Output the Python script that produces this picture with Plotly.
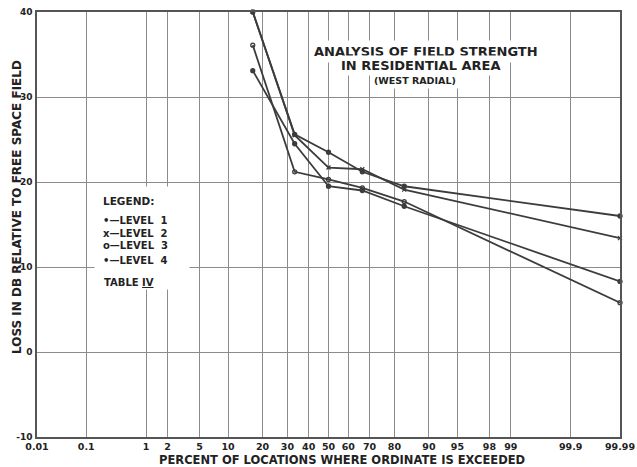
import plotly.graph_objects as go
from statistics import NormalDist

# ---------------- data ----------------
percent = [16.7, 33.3, 50, 66.7, 83.3, 99.99]
level1 = [40.0, 25.6, 23.5, 21.2, 19.5, 16.0]
level2 = [40.0, 25.5, 21.7, 21.5, 19.1, 13.4]
level3 = [36.1, 21.2, 20.3, 19.3, 17.7, 5.8]
level4 = [33.1, 24.5, 19.5, 19.0, 17.15, 8.3]

tick_pct = [0.01, 0.1, 1, 2, 5, 10, 20, 30, 40, 50, 60, 70, 80, 90, 95, 98, 99, 99.9, 99.99]
tick_txt = ["0.01", "0.1", "1", "2", "5", "10", "20", "30", "40", "50", "60", "70",
            "80", "90", "95", "98", "99", "99.9", "99.99"]
y_ticks = [-10, 0, 10, 20, 30, 40]

nd = NormalDist()


def prob(p):
    return nd.inv_cdf(p / 100.0)


xs = [prob(p) for p in percent]
FONT = "DejaVu Sans"
LINE = "#3c3c3c"
GRID = "#8c8c8c"
TXT = "#222222"

L, R, T, B = 37, 17, 12, 30
PW, PH = 637 - L - R, 467 - T - B


def px(x):
    return (x - L) / PW


def py(y):
    return (467 - B - y) / PH


fig = go.Figure()
series = [("LEVEL 1", level1, "circle"), ("LEVEL 2", level2, "x-thin-open"),
          ("LEVEL 3", level3, "circle-open"), ("LEVEL 4", level4, "circle")]
for name, vals, sym in series:
    fig.add_trace(go.Scatter(
        x=xs, y=vals, mode="lines+markers", name=name,
        line=dict(color=LINE, width=1.8),
        marker=dict(symbol=sym, size=4, color=LINE, line=dict(color=LINE, width=1.3)),
        cliponaxis=False, showlegend=False))

xmin, xmax = prob(0.01), prob(99.99)

fig.update_xaxes(
    range=[xmin, xmax], tickvals=[prob(p) for p in tick_pct], ticktext=tick_txt,
    showgrid=True, gridcolor=GRID, gridwidth=1.4, zeroline=False, automargin=False,
    showline=True, linecolor="#555555", linewidth=1.5, mirror=True,
    ticks="", tickfont=dict(family=FONT, size=9.5, color=TXT, weight="bold"),
)
fig.update_yaxes(
    range=[-10, 40], tickvals=y_ticks, ticktext=[str(v) for v in y_ticks],
    showgrid=True, gridcolor=GRID, gridwidth=1.4, zeroline=False, automargin=False,
    showline=True, linecolor="#555555", linewidth=1.5, mirror=True,
    ticks="", ticklabelstandoff=1,
    tickfont=dict(family=FONT, size=9, color=TXT, weight="bold"),
)

ann = []


def note(text, x, y, size, xanchor="center", **kw):
    ann.append(dict(text=text, xref="paper", yref="paper", x=px(x), y=py(y),
                    xanchor=xanchor, yanchor="middle", showarrow=False,
                    font=dict(family=FONT, size=size, color=TXT, weight="bold"), **kw))


# axis titles
note("PERCENT OF LOCATIONS WHERE ORDINATE IS EXCEEDED", 342, 460, 11.5)
note("LOSS IN DB RELATIVE TO FREE SPACE FIELD", 17, 207, 12, textangle=-90)

# title block
note("ANALYSIS OF FIELD STRENGTH", 426, 51, 13, bgcolor="white", borderpad=3)
note("IN RESIDENTIAL AREA", 420, 65, 13, bgcolor="white", borderpad=2)
note("(WEST RADIAL)", 415, 80, 9.5, bgcolor="white", borderpad=2)

# legend block (white panel + text)
note(" ", 142, 238, 10, bgcolor="white", width=92, height=100)
note("LEGEND:", 101, 201, 10.5, xanchor="left")
for txt, y in [("\u2022\u2014LEVEL  1", 220), ("x\u2014LEVEL  2", 233),
               ("o\u2014LEVEL  3", 246), ("\u2022\u2014LEVEL  4", 260)]:
    note(txt, 101, y, 10, xanchor="left")
note("TABLE <u>IV</u>", 102, 282, 10, xanchor="left")

fig.update_layout(
    width=637, height=467, margin=dict(l=L, r=R, t=T, b=B),
    paper_bgcolor="white", plot_bgcolor="white", annotations=ann, showlegend=False,
)

fig.write_html("out.html")
